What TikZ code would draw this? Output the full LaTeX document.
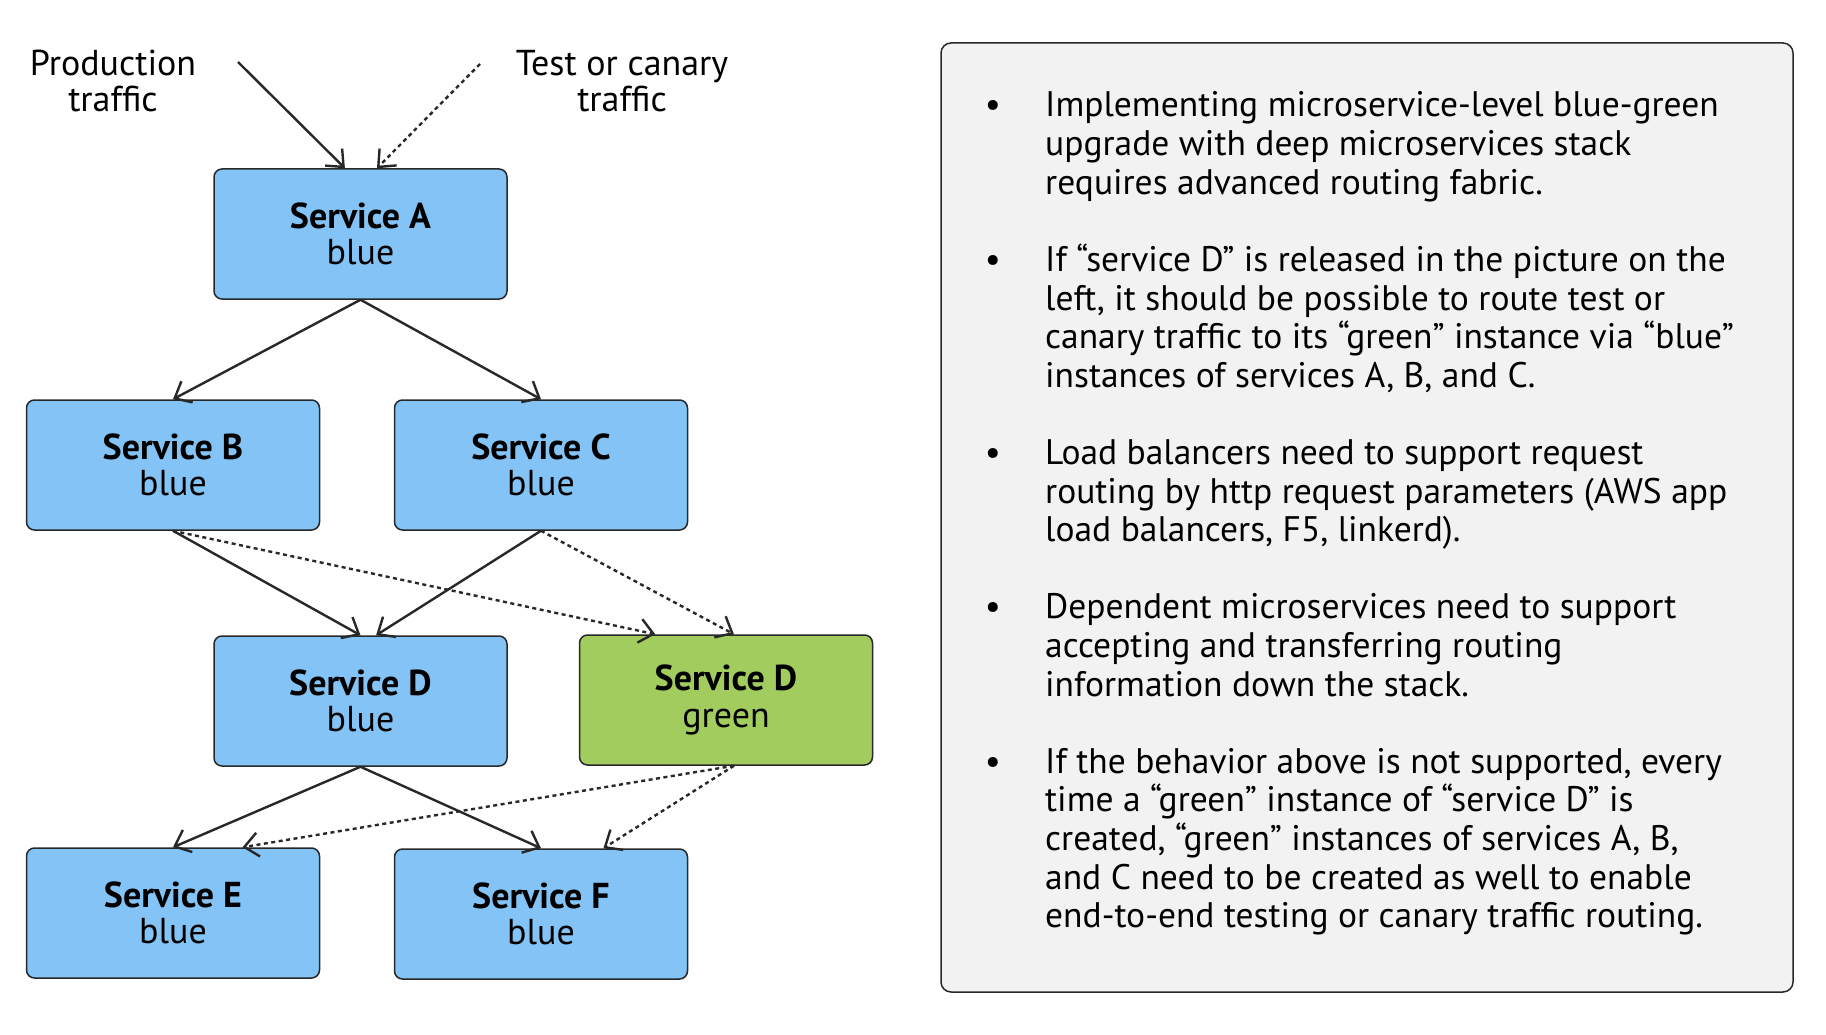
\documentclass[tikz,border=0pt]{standalone}
\usepackage{fontspec}
\setmainfont{PT Sans}
\usetikzlibrary{arrows.meta,calc}
\definecolor{svcblue}{RGB}{131,195,245}
\definecolor{svcgreen}{RGB}{162,205,94}
\definecolor{panelgray}{RGB}{242,242,242}
\definecolor{edgegray}{RGB}{40,40,40}
\begin{document}
\begin{tikzpicture}[x=1pt,y=-1pt,
  svc/.style={draw=edgegray, line width=1.5pt, rounded corners=8pt,
    minimum width=293pt, minimum height=130pt, align=center, inner sep=0pt,
    font=\fontsize{36}{36.5}\selectfont},
  bluesvc/.style={svc, fill=svcblue},
  greensvc/.style={svc, fill=svcgreen},
  lbl/.style={align=center, font=\fontsize{36}{36.5}\selectfont, inner sep=0pt},
  txt/.style={anchor=base west, inner sep=0pt, font=\fontsize{35.5}{38.6}\selectfont},
  bul/.style={anchor=base, inner sep=0pt, font=\fontsize{35.5}{38.6}\selectfont},
  flow/.style={draw=edgegray, line width=2.4pt, -{Straight Barb[length=14pt,width=24pt,line width=2.4pt]}},
  testflow/.style={flow, dash pattern=on 4pt off 3.5pt}
]
\useasboundingbox[fill=white] (0,0) rectangle (1826,1035);

% panel
\node[draw=edgegray, line width=1.5pt, fill=panelgray, rounded corners=10pt,
  minimum width=852pt, minimum height=949pt, inner sep=0pt] (panel) at (1367,517.5) {};

% service boxes
\node[bluesvc] (A) at (360.5,234) {\textbf{Service A}\\blue};
\node[bluesvc] (B) at (173,465) {\textbf{Service B}\\blue};
\node[bluesvc] (C) at (541,465) {\textbf{Service C}\\blue};
\node[bluesvc] (Db) at (360.5,701) {\textbf{Service D}\\blue};
\node[greensvc] (Dg) at (726,700) {\textbf{Service D}\\green};
\node[bluesvc] (E) at (173,913) {\textbf{Service E}\\blue};
\node[bluesvc] (F) at (541,914) {\textbf{Service F}\\blue};

% traffic labels
\node[lbl] (prod) at (113,81) {Production\\traffic};
\node[lbl] (test) at (622,81) {Test or canary\\traffic};
\coordinate (prodstart) at (238,62);
\coordinate (teststart) at (480,64);

% connectors
\draw[flow] (prodstart) -- ($(A.north west)!0.447!(A.north east)$);
\draw[testflow] (teststart) -- ($(A.north west)!0.556!(A.north east)$);
\draw[flow] (A.south) -- (B.north);
\draw[flow] (A.south) -- (C.north);
\draw[flow] (B.south) -- (Db.north);
\draw[testflow] (B.south) -- ($(Dg.north west)!0.26!(Dg.north east)$);
\draw[flow] (C.south) -- ($(Db.north west)!0.553!(Db.north east)$);
\draw[testflow] (C.south) -- ($(Dg.north west)!0.527!(Dg.north east)$);
\draw[flow] (Db.south) -- (E.north);
\draw[flow] (Db.south) -- (F.north);
\draw[testflow] ($(Dg.south west)!0.527!(Dg.south east)$) -- ($(E.north west)!0.736!(E.north east)$);
\draw[testflow] ($(Dg.south west)!0.527!(Dg.south east)$) -- ($(F.north west)!0.712!(F.north east)$);

% panel text
\foreach \i/\t in {
  0/{Implementing microservice-level blue-green},
  1/{upgrade with deep microservices stack},
  2/{requires advanced routing fabric.},
  4/{If “service D” is released in the picture on the},
  5/{left, it should be possible to route test or},
  6/{canary traffic to its “green” instance via “blue”},
  7/{instances of services A, B, and C.},
  9/{Load balancers need to support request},
  10/{routing by http request parameters (AWS app},
  11/{load balancers, F5, linkerd).},
  13/{Dependent microservices need to support},
  14/{accepting and transferring routing},
  15/{information down the stack.},
  17/{If the behavior above is not supported, every},
  18/{time a “green” instance of “service D” is},
  19/{created, “green” instances of services A, B,},
  20/{and C need to be created as well to enable},
  21/{end-to-end testing or canary traffic routing.}}
  {\node[txt] (line\i) at (1045,117+\i*38.6) {\t};}
\foreach \i in {0,4,9,13,17}
  {\node[bul] (bullet\i) at (993,117+\i*38.6) {•};}
\end{tikzpicture}
\end{document}
